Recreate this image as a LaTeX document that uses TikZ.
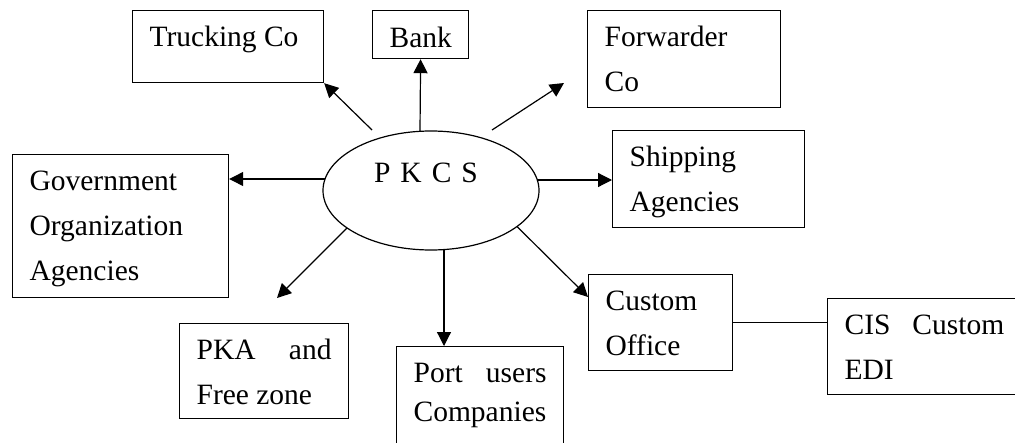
\documentclass[tikz,border=0pt]{standalone}
\usepackage{fontspec}
\setmainfont{Liberation Serif}
\usetikzlibrary{arrows.meta,shapes.geometric}
\newcommand\bxt[3]{\parbox[c][#2pt][t]{\dimexpr#1pt-34pt\relax}{\rule{0pt}{36pt}#3}}
\begin{document}
\begin{tikzpicture}[x=1pt,y=-1pt,
  font=\fontsize{29.5}{45}\selectfont,
  box/.style={draw, rectangle, inner xsep=17pt, inner ysep=0pt, anchor=north west, line width=1.2pt},
  arr/.style={-{Triangle[length=14pt,width=14pt]}, line width=1.2pt},
  conn/.style={line width=1.2pt}]
\useasboundingbox (0,0) rectangle (1015,442);
\fill[white] (0,0) rectangle (1015,442);
\clip (0,0) rectangle (1015,442);
% boxes
\node[box] (truck) at (132,10) {\bxt{191}{72}{Trucking Co}};
\node[box] (bank) at (372,10) {\parbox[c][48pt][t]{62pt}{\centering\rule{0pt}{37pt}Bank}};
\node[box] (fwd) at (587,10) {\bxt{193}{97}{Forwarder\\Co}};
\node[box] (ship) at (612,130) {\bxt{192}{97}{Shipping\\Agencies}};
\node[box] (gov) at (12,154) {\bxt{216}{143}{Government\\Organization\\Agencies}};
\node[box] (pka) at (179,323) {\bxt{169}{95}{PKA\hfill and\\Free zone}};
\node[box] (port) at (396,346) {\bxt{167}{130}{Port\hfill users\\[-6pt]Companies}};
\node[box] (cust) at (588,274) {\bxt{144}{96}{Custom\\Office}};
\node[box] (cis) at (827,298) {\bxt{210}{96}{CIS\hspace{22pt}Custom\\EDI}};
% center ellipse
\node[draw, ellipse, minimum width=216pt, minimum height=119pt, inner sep=0pt, line width=1.2pt] (pkcs) at (431,190.5) {};
\node[anchor=base, inner sep=0pt] (pkcslabel) at (426,182) {P\hspace{10pt}K\hspace{10pt}C\hspace{10pt}S};
% connector end points
\coordinate (a1) at (372,130);
\coordinate (a2) at (420,131.3);
\coordinate (a3) at (492,130);
\coordinate (e3) at (564,83);
\coordinate (a4) at (537,180);
\coordinate (a5) at (325,179);
\coordinate (a6) at (347,228);
\coordinate (e6) at (277,298);
\coordinate (a7) at (444,249.6);
\coordinate (a8) at (517,226.5);
\coordinate (e8) at (588,297);
% connectors
\draw[arr] (a1) -- (truck.south east);
\draw[arr] (a2) -- (bank.south);
\draw[arr] (a3) -- (e3);
\draw[arr] (a4) -- (a4 -| ship.west);
\draw[arr] (a5) -- (a5 -| gov.east);
\draw[arr] (a6) -- (e6);
\draw[arr] (a7) -- (a7 |- port.north);
\draw[arr] (a8) -- (e8);
\draw[conn] (cust.east) -- (cust.east -| cis.west);
\end{tikzpicture}
\end{document}
